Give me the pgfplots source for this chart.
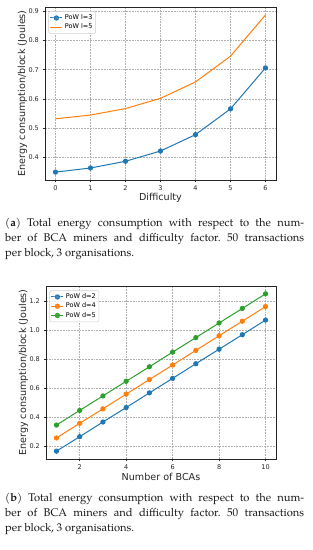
\documentclass[border=0pt]{standalone}
\usepackage{fontspec}
\setmainfont{DejaVu Sans}
\newfontfamily\capfont{TeX Gyre Pagella}
\usepackage{pgfplots}
\pgfplotsset{compat=1.18}
\definecolor{tabblue}{HTML}{1F77B4}
\definecolor{taborange}{HTML}{FF7F0E}
\definecolor{tabgreen}{HTML}{2CA02C}
\definecolor{gridc}{HTML}{B0B0B0}
\definecolor{axc}{HTML}{262626}
\pgfplotsset{mystyle/.style={
  scale only axis, height=173pt,
  axis line style={line width=0.55pt, axc},
  every tick/.style={line width=0.55pt, axc},
  tick align=outside, major tick length=2.3pt,
  xtick pos=lower, ytick pos=left,
  grid=major, major grid style={gridc, line width=0.55pt, dash pattern=on 1.9pt off 0.9pt},
  ticklabel style={font=\fontsize{6.5}{7}\selectfont, text=axc},
  xticklabel style={yshift=-0.3pt},
  yticklabel style={xshift=-0.3pt},
  label style={font=\fontsize{9.6}{11}\selectfont, text=axc},
  xlabel style={at={(axis description cs:0.5,0)}, anchor=center, yshift=-18pt},
  ylabel style={at={(axis description cs:0,0.5)}, anchor=center, rotate=0, yshift=22.5pt},
  /pgf/number format/assume math mode=true,
  yticklabel style={/pgf/number format/.cd, fixed, fixed zerofill, precision=1},
  legend style={at={(0.015,0.975)}, anchor=north west, font=\fontsize{6.5}{7.5}\selectfont,
     draw=gridc!60, rounded corners=1.5pt, fill=white, fill opacity=0.8, text opacity=1,
     inner sep=1.2pt, row sep=-1.2pt, line width=0.5pt},
  legend cell align=left,
  legend image code/.code={\draw[mark repeat=2,mark phase=2,##1] plot coordinates {(0pt,0pt) (6pt,0pt) (12pt,0pt)};},
}}
\frenchspacing
\begin{document}
\begin{tikzpicture}
\path[use as bounding box] (0,0) rectangle (313pt,-550pt);
\begin{axis}[mystyle, width=231pt, at={(45pt,-180pt)}, anchor=south west,
  xmin=-0.3, xmax=6.3, ymin=0.323, ymax=0.914,
  xtick={0,1,2,3,4,5,6}, ytick={0.4,0.5,0.6,0.7,0.8,0.9},
  xlabel={Difficulty}, ylabel={Energy consumption/block (Joules)}]
\addplot[tabblue, line width=1pt, mark=*, mark size=2.1pt, mark options={solid, fill=tabblue, draw=tabblue}]
  coordinates {(0,0.350)(1,0.364)(2,0.387)(3,0.422)(4,0.478)(5,0.566)(6,0.706)};
\addlegendentry{PoW l=3}
\addplot[taborange, line width=1pt, no marks]
  coordinates {(0,0.532)(1,0.545)(2,0.567)(3,0.602)(4,0.658)(5,0.746)(6,0.887)};
\addlegendentry{PoW l=5}
\end{axis}
\node[anchor=base west, inner sep=0pt, text width=299pt, align=justify, font=\capfont\fontsize{11.2}{15}\selectfont\frenchspacing, text=black!90] at (5pt,-226pt)
  {(\textbf{a}) Total energy consumption with respect to the num-\linebreak ber of BCA miners and difficulty factor. 50 transactions\linebreak per block, 3 organisations.};
\begin{axis}[mystyle, width=230pt, at={(46pt,-459pt)}, anchor=south west,
  xmin=0.55, xmax=10.45, ymin=0.111, ymax=1.304,
  xtick={2,4,6,8,10}, ytick={0.2,0.4,0.6,0.8,1.0,1.2},
  xlabel={Number of BCAs}, ylabel={Energy consumption/block (Joules)}]
\addplot[tabblue, line width=1pt, mark=*, mark size=2.1pt, mark options={solid, fill=tabblue, draw=tabblue}]
  coordinates {(1,0.165)(2,0.265)(3,0.366)(4,0.466)(5,0.567)(6,0.667)(7,0.768)(8,0.868)(9,0.968)(10,1.069)};
\addlegendentry{PoW d=2}
\addplot[taborange, line width=1pt, mark=*, mark size=2.1pt, mark options={solid, fill=taborange, draw=taborange}]
  coordinates {(1,0.256)(2,0.357)(3,0.457)(4,0.558)(5,0.659)(6,0.759)(7,0.860)(8,0.961)(9,1.061)(10,1.162)};
\addlegendentry{PoW d=4}
\addplot[tabgreen, line width=1pt, mark=*, mark size=2.1pt, mark options={solid, fill=tabgreen, draw=tabgreen}]
  coordinates {(1,0.345)(2,0.446)(3,0.546)(4,0.647)(5,0.747)(6,0.848)(7,0.948)(8,1.049)(9,1.149)(10,1.250)};
\addlegendentry{PoW d=5}
\end{axis}
\node[anchor=base west, inner sep=0pt, text width=299pt, align=justify, font=\capfont\fontsize{11.2}{15}\selectfont\frenchspacing, text=black!90] at (5pt,-501pt)
  {(\textbf{b}) Total energy consumption with respect to the num-\linebreak ber of BCA miners and difficulty factor. 50 transactions\linebreak per block, 3 organisations.};
\end{tikzpicture}
\end{document}
